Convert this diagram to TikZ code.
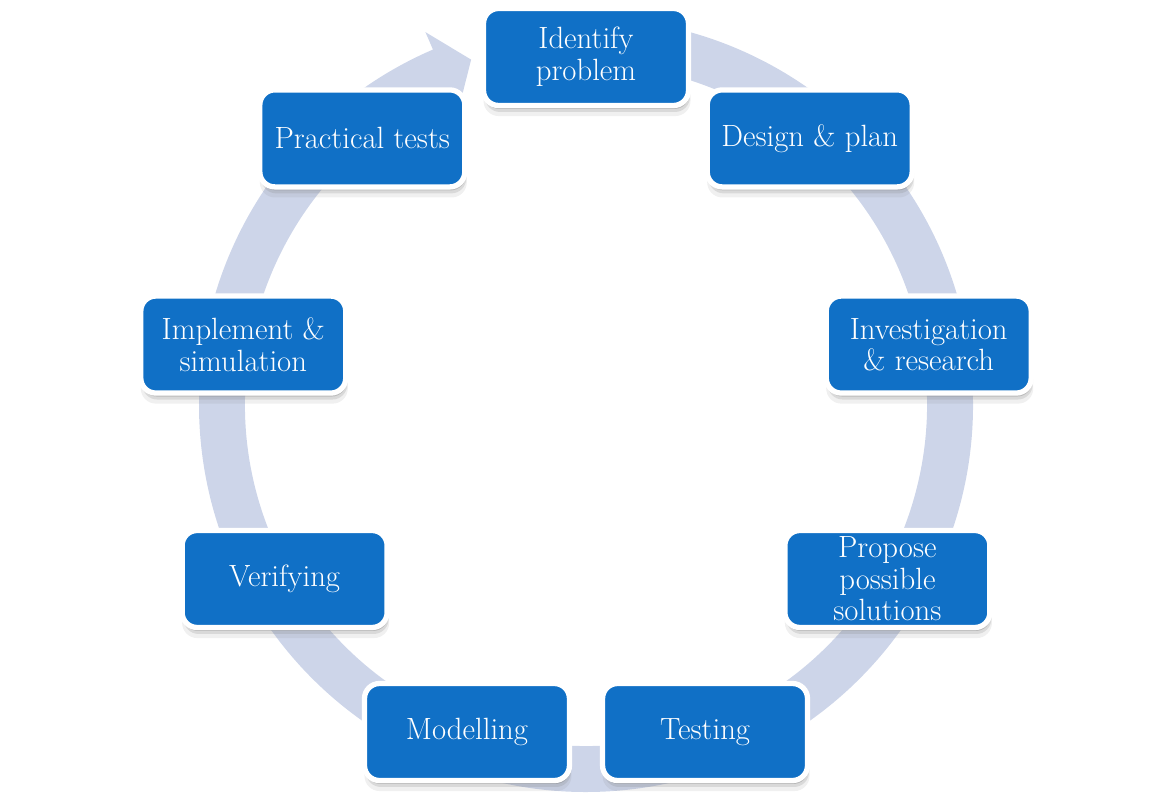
\documentclass[tikz,border=0pt]{standalone}
\usetikzlibrary{shadows}
\definecolor{ringblue}{HTML}{CDD5E9}
\definecolor{boxblue}{HTML}{1070C6}
\tikzset{
    stepbox/.style={draw=white, line width=3pt, fill=boxblue, rounded corners=0.3cm,
        minimum width=4.1cm, minimum height=1.94cm, align=center, text=white,
        font=\fontsize{17.5}{18}\selectfont,
        drop shadow={opacity=0.12, shadow xshift=0.02cm, shadow yshift=-0.2cm, shadow scale=1.01},
        drop shadow={opacity=0.2, shadow xshift=0.03cm, shadow yshift=-0.13cm},
        drop shadow={opacity=0.35, shadow xshift=0.02cm, shadow yshift=-0.07cm}}
}
\begin{document}
\begin{tikzpicture}[x=0.02cm, y=0.02cm]
    % Parameters
    \def\rout{387}
    \def\rin{341}
    \def\rmid{364}
    \def\rbox{348}

    \useasboundingbox (0,0) rectangle (1173,807);

    \begin{scope}[shift={(586,402)}]
    % Ring with arrow head
    \fill[ringblue] (95:\rout) arc[start angle=95, end angle=-246.7, radius=\rout]
        -- (-246.7:406) -- (-251.6:\rmid) -- (-246.7:322) -- (-246.7:\rin)
        arc[start angle=-246.7, end angle=95, radius=\rin] -- cycle;

    % Steps round the ring
    \foreach \i/\txt in {0/{Identify\\problem}, 1/{Design \& plan},
                         2/{Investigation\\\& research}, 3/{Propose\\possible\\solutions},
                         4/{Testing}, 5/{Modelling}, 6/{Verifying},
                         7/{Implement \&\\simulation}, 8/{Practical tests}} {
        \pgfmathsetmacro{\ang}{90-40*\i}
        \node[stepbox] (s\i) at (\ang:\rbox) {\txt}; % Step
    }
    \end{scope}
\end{tikzpicture}
\end{document}
